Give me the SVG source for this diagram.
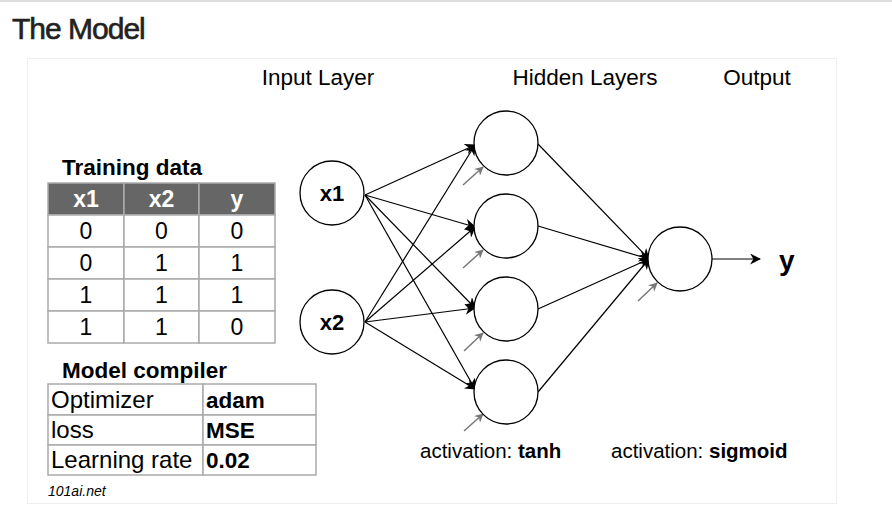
<svg xmlns="http://www.w3.org/2000/svg" width="892" height="528" viewBox="0 0 892 528">
<defs>
<style>
text{font-family:"Liberation Sans",Arial,sans-serif;fill:#000}
.b{font-weight:bold}
.node{fill:#fff;stroke:#000;stroke-width:1.3}
.conn line{stroke:#000;stroke-width:1.2}
.bias line{stroke:#777;stroke-width:1.5}
.cell{fill:#fff;stroke:#aaa;stroke-width:1.5}
.hd{fill:#666;stroke:#aaa;stroke-width:1.5}
.tc{font-size:23px;text-anchor:middle}
.lbl{font-size:22.5px;text-anchor:middle}
.ct{font-size:24px}
.cb{font-size:22.5px;font-weight:bold}
</style>
<marker id="ah" viewBox="0 0 10 10" refX="9" refY="5" markerWidth="11" markerHeight="11" markerUnits="userSpaceOnUse" orient="auto"><path d="M0,0 L10,5 L0,10 L3,5 z" fill="#000"/></marker>
<marker id="ahg" viewBox="0 0 10 10" refX="9" refY="5" markerWidth="9" markerHeight="9" markerUnits="userSpaceOnUse" orient="auto"><path d="M0,0 L10,5 L0,10 L3,5 z" fill="#777"/></marker>
</defs>
<rect width="892" height="528" fill="#fff"/>
<line x1="0" y1="1" x2="892" y2="1" stroke="#ddd" stroke-width="2"/>
<text x="12" y="39" font-size="30" style="fill:#222;stroke:#222;stroke-width:0.6;letter-spacing:-1px">The Model</text>
<rect x="27.5" y="58.5" width="809" height="445" fill="#fff" stroke="#eee" stroke-width="1"/>

<g id="labels">
<text class="lbl" x="318" y="85">Input Layer</text>
<text class="lbl" x="585" y="85">Hidden Layers</text>
<text class="lbl" x="757" y="85">Output</text>
<text x="420" y="458" font-size="20.5">activation: <tspan class="b">tanh</tspan></text>
<text x="611" y="458" font-size="20.5">activation: <tspan class="b">sigmoid</tspan></text>
</g>

<g id="connectors" class="conn">
<line x1="365" y1="195" x2="475" y2="145" marker-end="url(#ah)"/>
<line x1="365" y1="195" x2="475" y2="227" marker-end="url(#ah)"/>
<line x1="365" y1="195" x2="475" y2="308" marker-end="url(#ah)"/>
<line x1="365" y1="195" x2="475" y2="389" marker-end="url(#ah)"/>
<line x1="365" y1="322" x2="475" y2="145" marker-end="url(#ah)"/>
<line x1="365" y1="322" x2="475" y2="227" marker-end="url(#ah)"/>
<line x1="365" y1="322" x2="475" y2="308" marker-end="url(#ah)"/>
<line x1="365" y1="322" x2="475" y2="389" marker-end="url(#ah)"/>
<line x1="538" y1="144" x2="649" y2="259" marker-end="url(#ah)"/>
<line x1="538" y1="226" x2="649" y2="259" marker-end="url(#ah)"/>
<line x1="538" y1="309" x2="649" y2="259" marker-end="url(#ah)"/>
<line x1="538" y1="392" x2="649" y2="259" marker-end="url(#ah)"/>
<line x1="712" y1="259" x2="760" y2="259" marker-end="url(#ah)"/>
</g>
<g id="bias" class="bias">
<line x1="463" y1="185" x2="483" y2="167" marker-end="url(#ahg)"/>
<line x1="463" y1="268" x2="483" y2="250" marker-end="url(#ahg)"/>
<line x1="464" y1="351" x2="483" y2="333" marker-end="url(#ahg)"/>
<line x1="464" y1="431" x2="483" y2="414" marker-end="url(#ahg)"/>
<line x1="638" y1="301" x2="657" y2="283" marker-end="url(#ahg)"/>
</g>

<g id="x1"><circle class="node" cx="332" cy="193" r="32"/><text class="b" x="332" y="201" font-size="22" text-anchor="middle">x1</text></g>
<g id="x2"><circle class="node" cx="332" cy="322" r="32"/><text class="b" x="332" y="330" font-size="22" text-anchor="middle">x2</text></g>
<g id="h1"><circle class="node" cx="506" cy="143" r="32"/></g>
<g id="h2"><circle class="node" cx="506" cy="226" r="32"/></g>
<g id="h3"><circle class="node" cx="506" cy="309" r="32"/></g>
<g id="h4"><circle class="node" cx="506" cy="392" r="32"/></g>
<g id="out"><circle class="node" cx="680" cy="259" r="32"/></g>
<text class="b" x="779" y="270" font-size="28">y</text>

<g id="training-data">
<text class="b" x="62" y="175" font-size="22.5">Training data</text>
<rect class="hd" x="48" y="183" width="76" height="32"/>
<rect class="hd" x="124" y="183" width="75" height="32"/>
<rect class="hd" x="199" y="183" width="76" height="32"/>
<text class="tc b" x="86" y="207" style="fill:#fff">x1</text>
<text class="tc b" x="161.5" y="207" style="fill:#fff">x2</text>
<text class="tc b" x="237" y="207" style="fill:#fff">y</text>
<rect class="cell" x="48" y="215" width="76" height="32"/><rect class="cell" x="124" y="215" width="75" height="32"/><rect class="cell" x="199" y="215" width="76" height="32"/>
<rect class="cell" x="48" y="247" width="76" height="32"/><rect class="cell" x="124" y="247" width="75" height="32"/><rect class="cell" x="199" y="247" width="76" height="32"/>
<rect class="cell" x="48" y="279" width="76" height="32"/><rect class="cell" x="124" y="279" width="75" height="32"/><rect class="cell" x="199" y="279" width="76" height="32"/>
<rect class="cell" x="48" y="311" width="76" height="32"/><rect class="cell" x="124" y="311" width="75" height="32"/><rect class="cell" x="199" y="311" width="76" height="32"/>
<text class="tc" x="86" y="239">0</text><text class="tc" x="161.5" y="239">0</text><text class="tc" x="237" y="239">0</text>
<text class="tc" x="86" y="271">0</text><text class="tc" x="161.5" y="271">1</text><text class="tc" x="237" y="271">1</text>
<text class="tc" x="86" y="303">1</text><text class="tc" x="161.5" y="303">1</text><text class="tc" x="237" y="303">1</text>
<text class="tc" x="86" y="335">1</text><text class="tc" x="161.5" y="335">1</text><text class="tc" x="237" y="335">0</text>
</g>

<g id="model-compiler">
<text class="b" x="62" y="378" font-size="22.5">Model compiler</text>
<rect class="cell" x="48" y="384" width="155" height="31"/><rect class="cell" x="203" y="384" width="113" height="31"/>
<rect class="cell" x="48" y="415" width="155" height="30"/><rect class="cell" x="203" y="415" width="113" height="30"/>
<rect class="cell" x="48" y="445" width="155" height="30"/><rect class="cell" x="203" y="445" width="113" height="30"/>
<text class="ct" x="51" y="408">Optimizer</text><text class="cb" x="206" y="408">adam</text>
<text class="ct" x="51" y="438">loss</text><text class="cb" x="206" y="438">MSE</text>
<text class="ct" x="51" y="468">Learning rate</text><text class="cb" x="206" y="468">0.02</text>
</g>
<text x="48" y="496" font-size="14" font-style="italic">101ai.net</text>
</svg>
